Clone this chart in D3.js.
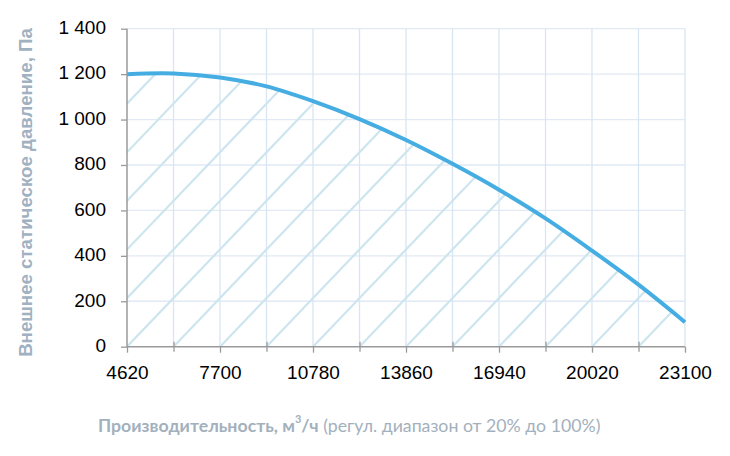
<!DOCTYPE html>
<html><head><meta charset="utf-8">
<script src="https://cdn.jsdelivr.net/npm/d3@7"></script>
<style>
html,body{margin:0;padding:0;background:#fff;}
svg{display:block;}
</style></head>
<body>
<svg id="chart" width="730" height="456"></svg>
<script>
// ---- data ----
const flow = [4620, 6160, 7700, 9240, 10780, 12320, 13860, 15400, 16940, 18480, 20020, 21560, 23100];
const pressure = [1200, 1203, 1185, 1146, 1081, 1002, 910, 805, 691, 565, 423, 273, 108];
const xTickValues = [4620, 6160, 7700, 9240, 10780, 12320, 13860, 15400, 16940, 18480, 20020, 21560, 23100];
const xLabelValues = [4620, 7700, 10780, 13860, 16940, 20020, 23100];
const yTickValues = [0, 200, 400, 600, 800, 1000, 1200, 1400];
const yTitle = "Внешнее статическое давление, Па";
const xTitleBold = "Производительность, м";
const xTitleSup = "3";
const xTitleBold2 = "/ч";
const xTitleNormal = " (регул. диапазон от 20% до 100%)";
const hatchStep = 1540;   // m3/h between hatch lines
const hatchRise = 214;    // Pa per hatchStep

(function () {
// ---- layout ----
const svg = d3.select("#chart");
const pl = 127, pr = 685, pt = 28.7, pb = 346.7;
const x = d3.scaleLinear().domain([4620, 23100]).range([pl, pr]);
const y = d3.scaleLinear().domain([0, 1400]).range([pb, pt]);

const data = flow.map((f, i) => ({f, p: pressure[i]}));

// grid
const grid = svg.append("g");
grid.selectAll("line.h").data(yTickValues.filter(v => v > 0)).join("line")
  .attr("x1", pl).attr("x2", pr)
  .attr("y1", d => y(d)).attr("y2", d => y(d))
  .attr("stroke", "#e1eaf4").attr("stroke-width", 1.3);
grid.selectAll("line.v").data(xTickValues.filter(v => v > 4620)).join("line")
  .attr("x1", d => x(d)).attr("x2", d => x(d))
  .attr("y1", pt).attr("y2", pb)
  .attr("stroke", "#d8e5f3").attr("stroke-width", 1.3);

// clip for hatch
const curve = d3.curveCatmullRom.alpha(0.5);
const area = d3.area().x(d => x(d.f)).y0(y(0)).y1(d => y(d.p)).curve(curve);
svg.append("clipPath").attr("id", "under").append("path").datum(data).attr("d", area);

const hatchStarts = d3.range(-12, 13).map(k => 4620 + k * hatchStep);
svg.append("g").attr("clip-path", "url(#under)")
  .selectAll("line").data(hatchStarts).join("line")
  .attr("x1", d => x(d)).attr("y1", y(0))
  .attr("x2", d => x(d + hatchStep * 8)).attr("y2", d => y(hatchRise * 8))
  .attr("stroke", "#cde5ef").attr("stroke-width", 2.2);

// curve
const line = d3.line().x(d => x(d.f)).y(d => y(d.p)).curve(curve);
svg.append("path").datum(data).attr("d", line)
  .attr("fill", "none").attr("stroke", "#45ade2").attr("stroke-width", 4);

// axes
const axisColor = "#9a9a9a";
const fmt = d3.formatLocale({decimal: ",", thousands: " ", grouping: [3], currency: ["", ""]}).format(",d");
const yAxis = svg.append("g").attr("transform", `translate(${pl},0)`)
  .call(d3.axisLeft(y).tickValues(yTickValues).tickSize(6).tickPadding(15).tickFormat(fmt));
yAxis.select(".domain").attr("stroke", axisColor).attr("stroke-width", 1.5).attr("d", `M0,${pt}V${pb}`);
yAxis.selectAll(".tick line").attr("stroke", axisColor).attr("stroke-width", 1.3);
yAxis.selectAll(".tick text").attr("font-family", "Liberation Sans, Arial, sans-serif")
  .attr("font-size", "19px").attr("fill", "#000").attr("dy", "0.25em");

const xAxis = svg.append("g").attr("transform", `translate(0,${pb})`)
  .call(d3.axisBottom(x).tickValues(xTickValues).tickSize(6).tickPadding(17)
    .tickFormat(d => xLabelValues.includes(d) ? d : ""));
xAxis.select(".domain").attr("stroke", axisColor).attr("stroke-width", 1.5).attr("d", `M${pl},0H${pr}`);
xAxis.selectAll(".tick line").attr("stroke", axisColor).attr("stroke-width", 1.3)
  .attr("y1", d => xLabelValues.includes(d) ? 0 : -5)
  .attr("y2", d => xLabelValues.includes(d) ? 6 : 5);
xAxis.selectAll(".tick text").attr("font-family", "Liberation Sans, Arial, sans-serif")
  .attr("font-size", "19px").attr("fill", "#000").attr("dy", "0.5em");

// y title
const yt = svg.append("text")
  .attr("transform", `translate(32,${(28 + 357) / 2}) rotate(-90)`)
  .attr("text-anchor", "middle")
  .attr("font-family", "Liberation Sans, Arial, sans-serif")
  .attr("font-weight", "bold").attr("font-size", "16px").attr("fill", "#a0b1c1")
  .text(yTitle);
{
  const w = yt.node().getComputedTextLength();
  yt.attr("font-size", (16 * 329 / w) + "px");
}

// x title
const xt = svg.append("text").attr("x", 98).attr("y", 432)
  .attr("font-family", "Lato, 'Open Sans', sans-serif").attr("font-size", "17px").attr("fill", "#a3b0bd");
xt.append("tspan").attr("font-weight", "bold").text(xTitleBold);
xt.append("tspan").attr("font-weight", "bold").attr("font-size", "11px").attr("dy", "-9").text(xTitleSup);
xt.append("tspan").attr("font-weight", "bold").attr("dy", "9").text(xTitleBold2);
xt.append("tspan").text(xTitleNormal);
{
  const w = xt.node().getComputedTextLength();
  const s = 17 * 503 / w;
  xt.attr("font-size", s + "px");
}
})();
</script>
</body></html>
